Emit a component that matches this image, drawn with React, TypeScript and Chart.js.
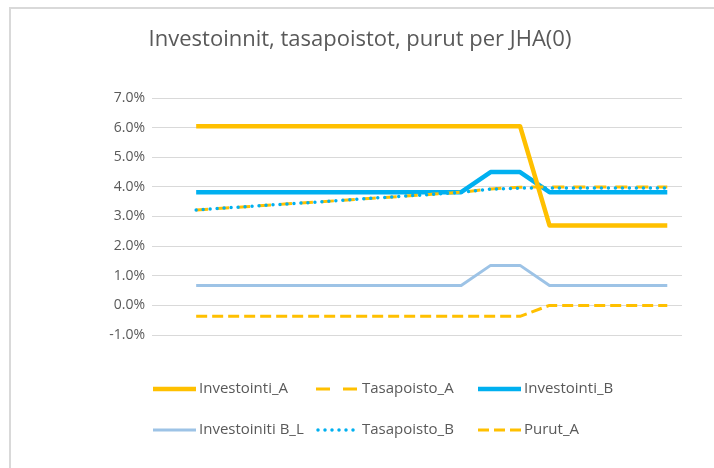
import React, { useEffect, useRef } from "react";
import { Chart, registerables } from "chart.js";

Chart.register(...registerables);

const TITLE = "Investoinnit, tasapoistot, purut per JHA(0)";
const categories = ["", "1", "2", "3", "4", "5", "6", "7", "8", "9", "10", "11", "12", "13", "14", "15", "16", "17"];
const investointiA = [null, 6.05, 6.05, 6.05, 6.05, 6.05, 6.05, 6.05, 6.05, 6.05, 6.05, 6.05, 6.05, 2.7, 2.7, 2.7, 2.7, 2.7];
const tasapoistoA = [null, 3.22, 3.29, 3.35, 3.42, 3.48, 3.55, 3.62, 3.68, 3.75, 3.82, 3.93, 3.99, 4.0, 4.0, 4.0, 4.0, 4.0];
const investointiB = [null, 3.82, 3.82, 3.82, 3.82, 3.82, 3.82, 3.82, 3.82, 3.82, 3.82, 4.5, 4.5, 3.82, 3.82, 3.82, 3.82, 3.82];
const investointiBL = [null, 0.67, 0.67, 0.67, 0.67, 0.67, 0.67, 0.67, 0.67, 0.67, 0.67, 1.35, 1.35, 0.67, 0.67, 0.67, 0.67, 0.67];
const tasapoistoB = [null, 3.22, 3.29, 3.35, 3.42, 3.48, 3.55, 3.62, 3.68, 3.75, 3.82, 3.92, 3.96, 3.96, 3.96, 3.96, 3.96, 3.96];
const purutA = [null, -0.37, -0.37, -0.37, -0.37, -0.37, -0.37, -0.37, -0.37, -0.37, -0.37, -0.37, -0.37, 0.0, 0.0, 0.0, 0.0, 0.0];
const yTicks = [-1, 0, 1, 2, 3, 4, 5, 6, 7];

const ORANGE = "#FFC000";
const BLUE = "#00B0F0";
const LIGHTBLUE = "#9DC3E6";
const TEXT = "#595959";
const GRID = "#D9D9D9";
const FONT = "'Open Sans', 'Noto Sans', sans-serif";

type Series = { label: string; data: (number | null)[]; color: string; width: number; dash: number[]; cap: CanvasLineCap; order: number };

const series: Series[] = [
  { label: "Investointi_A", data: investointiA, color: ORANGE, width: 4.5, dash: [], cap: "butt", order: 1 },
  { label: "Tasapoisto_A", data: tasapoistoA, color: ORANGE, width: 3, dash: [12, 9], cap: "butt", order: 4 },
  { label: "Investointi_B", data: investointiB, color: BLUE, width: 4.5, dash: [], cap: "butt", order: 6 },
  { label: "Investoiniti B_L", data: investointiBL, color: LIGHTBLUE, width: 3, dash: [], cap: "butt", order: 5 },
  { label: "Tasapoisto_B", data: tasapoistoB, color: BLUE, width: 3.5, dash: [0, 7], cap: "round", order: 3 },
  { label: "Purut_A", data: purutA, color: ORANGE, width: 3, dash: [11, 5], cap: "butt", order: 2 },
];

const legendCols = [153, 316, 478];
const legendRows = [389, 430];
const legendPlugin = {
  id: "customLegend",
  beforeDraw(chart: any) {
    const ctx = chart.ctx;
    ctx.save();
    ctx.fillStyle = "#FFFFFF";
    ctx.fillRect(0, 0, chart.width, chart.height);
    ctx.strokeStyle = GRID;
    ctx.lineWidth = 2;
    ctx.beginPath();
    ctx.moveTo(10, chart.height);
    ctx.lineTo(10, 8);
    ctx.lineTo(chart.width, 8);
    ctx.stroke();
    ctx.fillStyle = TEXT;
    ctx.font = `22px ${FONT}`;
    ctx.textAlign = "center";
    ctx.textBaseline = "middle";
    ctx.fillText(TITLE, 360, 40);
    ctx.restore();
  },
  afterDraw(chart: any) {
    const ctx = chart.ctx;
    ctx.save();
    series.forEach((s, i) => {
      const x = legendCols[i % 3];
      const y = legendRows[Math.floor(i / 3)];
      ctx.strokeStyle = s.color;
      ctx.lineWidth = s.width;
      ctx.lineCap = s.cap;
      ctx.setLineDash(s.label === "Tasapoisto_A" ? [14, 13] : s.dash);
      ctx.beginPath();
      ctx.moveTo(x + (s.cap === "round" ? 2 : 0), y);
      ctx.lineTo(x + 43, y);
      ctx.stroke();
      ctx.setLineDash([]);
      ctx.fillStyle = TEXT;
      ctx.font = `15px ${FONT}`;
      ctx.textAlign = "left";
      ctx.textBaseline = "middle";
      ctx.fillText(s.label, x + 46, y);
    });
    ctx.restore();
  },
};

export default function App() {
  const ref = useRef<HTMLCanvasElement>(null);
  useEffect(() => {
    if (!ref.current) return;
    const chart = new Chart(ref.current, {
      type: "line",
      data: {
        labels: categories,
        datasets: series.map((s) => ({
          label: s.label,
          data: s.data,
          borderColor: s.color,
          backgroundColor: s.color,
          borderWidth: s.width,
          borderDash: s.dash,
          borderCapStyle: s.cap,
          borderJoinStyle: "round",
          pointRadius: 0,
          tension: 0,
          fill: false,
          order: s.order,
        })),
      },
      options: {
        animation: false,
        responsive: false,
        layout: { padding: { left: 0, top: 98, right: 32, bottom: 133 } },
        plugins: { legend: { display: false }, title: { display: false }, tooltip: { enabled: false } },
        scales: {
          x: { display: false, offset: true },
          y: {
            min: -1,
            max: 7,
            afterFit: (scale: any) => {
              scale.width = 152;
            },
            afterBuildTicks: (scale: any) => {
              scale.ticks = yTicks.map((v) => ({ value: v }));
            },
            ticks: {
              color: TEXT,
              font: { family: FONT, size: 14 },
              padding: 7,
              callback: (v: any) => Number(v).toFixed(1) + "%",
            },
            grid: { color: GRID, lineWidth: 1, drawTicks: false },
            border: { display: false },
          },
        },
      },
      plugins: [legendPlugin],
    });
    return () => chart.destroy();
  }, []);
  return (
    <div style={{ position: "fixed", left: 0, top: 0, width: 714, height: 468, background: "#fff" }}>
      <canvas ref={ref} width={714} height={468} />
    </div>
  );
}
